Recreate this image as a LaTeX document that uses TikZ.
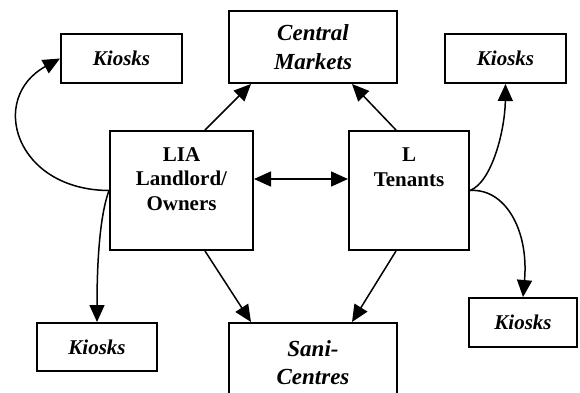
\documentclass[tikz,border=0pt]{standalone}
\usepackage{fontspec}
\setmainfont{Liberation Serif}
\usetikzlibrary{arrows.meta}
\begin{document}
\begin{tikzpicture}[x=1pt,y=-1pt,
  box/.style={draw,line width=2pt,inner sep=0pt,anchor=center},
  kiosk/.style={box,font=\fontsize{21}{24.5}\selectfont\bfseries\itshape},
  bigit/.style={box,align=center,font=\fontsize{23}{28.5}\selectfont\bfseries\itshape},
  maintext/.style={align=center,inner sep=0pt,font=\fontsize{21}{24.5}\selectfont\bfseries},
  conn/.style={line width=1.5pt,-{Triangle[length=17pt,width=15pt]}},
  dconn/.style={line width=1.5pt,{Triangle[length=17pt,width=15pt]}-{Triangle[length=17pt,width=15pt]}}]
\useasboundingbox (0,0) rectangle (580,392);
% boxes
\node[kiosk,minimum width=121pt,minimum height=49pt] (kTL) at (121.5,58.5) {Kiosks};
\node[bigit,minimum width=168pt,minimum height=72pt] (central) at (313,47) {Central\\Markets};
\node[kiosk,minimum width=121pt,minimum height=49pt] (kTR) at (505.5,58.5) {Kiosks};
\node[box,minimum width=143pt,minimum height=119pt] (lia) at (181.5,190.5) {};
\node[maintext] (liatext) at (181.5,179) {LIA\\Landlord/\\Owners};
\node[box,minimum width=120pt,minimum height=119pt] (ten) at (409,190.5) {};
\node[maintext] (tentext) at (409,167) {L\\Tenants};
\node[kiosk,minimum width=120pt,minimum height=48pt] (kBL) at (97,347) {Kiosks};
\node[bigit,minimum width=168pt,minimum height=79pt] (sani) at (313,362.5) {Sani-\\Centres};
\node[kiosk,minimum width=108pt,minimum height=49pt] (kBR) at (523,322.5) {Kiosks};
% straight connectors
\draw[conn] ([xshift=96pt]lia.north west) -- ([xshift=23pt]central.south west);
\draw[conn] ([xshift=48pt]ten.north west) -- ([xshift=-46pt]central.south east);
\draw[conn] ([xshift=96pt]lia.south west) -- ([xshift=23pt]sani.north west);
\draw[conn] ([xshift=48pt]ten.south west) -- ([xshift=-46pt]sani.north east);
\draw[dconn] ([yshift=11.5pt]lia.east) -- ([yshift=11.5pt]ten.west);
% curved connectors
\draw[conn] (lia.west) .. controls (15,190) and (-12,98) .. (kTL.west);
\draw[conn] (lia.west) .. controls (100,215) and (97,260) .. (kBL.north);
\draw[conn] (ten.east) .. controls (492,182) and (505,130) .. (kTR.south);
\draw[conn] (ten.east) .. controls (505,188) and (529,230) .. (kBR.north);
\end{tikzpicture}
\end{document}
